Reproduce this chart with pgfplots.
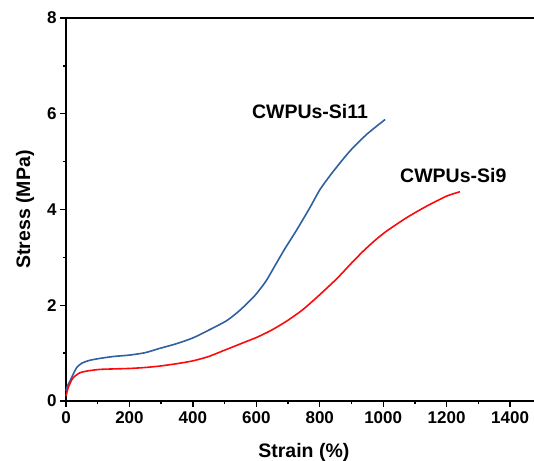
\documentclass[border=0pt]{standalone}
\usepackage{fontspec}
\setmainfont{Liberation Sans}
\usepackage{pgfplots}
\pgfplotsset{compat=1.18}
\definecolor{cblue}{RGB}{46,96,162}
\definecolor{cred}{RGB}{250,10,10}
\begin{document}
\begin{tikzpicture}
\begin{axis}[
  scale only axis,
  width=475.8pt, height=383pt,
  xmin=0, xmax=1500, ymin=0, ymax=8,
  axis x line*=box, axis y line*=left,
  xtick={0,200,...,1400}, ytick={0,2,4,6,8},
  minor xtick={100,300,...,1500}, minor ytick={1,3,5,7},
  xtick pos=bottom, ytick pos=left,
  tick align=outside,
  major tick length=6pt, minor tick length=3.5pt,
  every tick/.style={line width=1.4pt, black},
  axis line style={line width=1.6pt},
  /pgf/number format/assume math mode=true,
  /pgf/number format/1000 sep={},
  tick label style={font=\fontsize{17}{19}\selectfont\bfseries},
  xticklabel style={yshift=-1pt},
  label style={font=\fontsize{19.5}{22}\selectfont\bfseries},
  xlabel={Strain (\%)},
  ylabel={Stress (MPa)},
  xlabel style={yshift=-13pt},
  ylabel style={yshift=6pt},
  clip=false,
]
\addplot[cblue, line width=1.6pt, smooth, tension=0.4] coordinates {
(0,0.21) (5,0.32) (13,0.42) (22,0.55) (34,0.70) (50,0.79) (75,0.85) (107,0.89)
(150,0.93) (202,0.96) (250,1.01) (296,1.10) (350,1.20) (401,1.32) (450,1.48)
(507,1.68) (549,1.90) (595,2.20) (630,2.50) (660,2.84) (690,3.18) (727,3.57)
(769,4.04) (801,4.42) (843,4.80) (895,5.22) (948,5.57) (1006,5.88)
};
\addplot[cred, line width=1.6pt, smooth, tension=0.4] coordinates {
(0,0.10) (7,0.28) (15,0.40) (23,0.49) (44,0.59) (70,0.63) (107,0.66) (150,0.67)
(202,0.68) (250,0.70) (296,0.73) (350,0.78) (401,0.84) (450,0.93) (507,1.08)
(560,1.22) (605,1.34) (648,1.48) (696,1.67) (745,1.90) (790,2.16) (853,2.55)
(900,2.88) (937,3.13) (975,3.36) (1011,3.55) (1074,3.83) (1137,4.07) (1200,4.28)
(1242,4.37)
};
\node[anchor=west, font=\fontsize{19.5}{22}\selectfont\bfseries, inner sep=0pt] at (axis cs:586,6.05) {CWPUs-Si11};
\node[anchor=west, font=\fontsize{19.5}{22}\selectfont\bfseries, inner sep=0pt] at (axis cs:1053,4.70) {CWPUs-Si9};
\end{axis}
\pgfresetboundingbox
\path[use as bounding box] ([shift={(-66pt,-60pt)}]current axis.south west) rectangle ([shift={(-7.8pt,18pt)}]current axis.north east);
\end{tikzpicture}
\end{document}
